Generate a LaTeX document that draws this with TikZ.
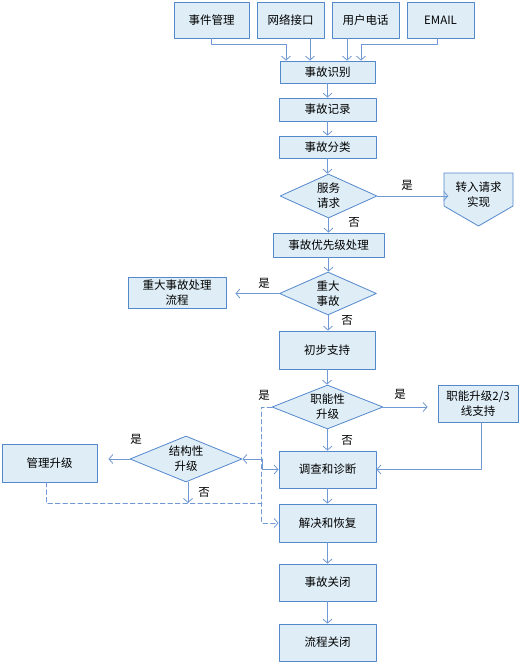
\documentclass[tikz,border=0pt]{standalone}
\usepackage{fontspec}
\setmainfont{Noto Sans CJK SC}
\usetikzlibrary{arrows.meta,shapes.geometric}
\definecolor{boxfill}{RGB}{222,237,246}
\definecolor{boxline}{RGB}{84,136,204}
\definecolor{flowline}{RGB}{112,152,212}

\begin{document}
\begin{tikzpicture}[x=1pt,y=-1pt,line cap=round,line join=round,
  every node/.style={font=\fontsize{11.5}{15}\selectfont,inner sep=0pt},
  proc/.style={draw=boxline,fill=boxfill,line width=0.8pt,minimum width=97pt,minimum height=37pt,align=center},
  decide/.style={diamond,draw=boxline,fill=boxfill,line width=0.8pt,aspect=2.3,align=center},
  flow/.style={draw=flowline,line width=0.8pt,-{Straight Barb[length=4pt,width=9pt]}},
  dashline/.style={draw=flowline,line width=0.8pt,dash pattern=on 4.5pt off 3pt},
  flowdash/.style={flow,dash pattern=on 4.5pt off 3pt}]
  \useasboundingbox (0,0) rectangle (529,663);
  % sources
  \node[proc,minimum width=75pt,minimum height=36pt] (evtmgmt) at (211.5,20) {事件管理};
  \node[proc,minimum width=67pt,minimum height=36pt] (netif) at (290.5,20) {网络接口};
  \node[proc,minimum width=67pt,minimum height=36pt] (phone) at (365.5,20) {用户电话};
  \node[proc,minimum width=67pt,minimum height=36pt] (email) at (440.5,20) {EMAIL};
  % main column
  \node[proc,minimum width=95pt,minimum height=22pt] (ident) at (327.5,72) {事故识别};
  \node[proc,minimum height=23pt] (record) at (327.5,109.5) {事故记录};
  \node[proc,minimum height=22pt] (classify) at (327.5,147) {事故分类};
  \node[decide,minimum width=97pt,minimum height=44pt] (svcreq) at (328.5,196) {服务\\请求};
  \node[proc,minimum width=111pt,minimum height=24pt] (prio) at (328.5,245) {事故优先级处理};
  \node[decide,minimum width=97pt,minimum height=43pt] (major) at (328,293.5) {重大\\事故};
  \node[proc,minimum width=96pt,minimum height=38pt] (support) at (327,350) {初步支持};
  \node[decide,minimum width=111pt,minimum height=44pt] (funcesc) at (327.5,407) {职能性\\升级};
  \node[proc] (diag) at (327.5,469.5) {调查和诊断};
  \node[proc,minimum height=38pt] (resolve) at (327.5,523) {解决和恢复};
  \node[proc] (close) at (327.5,582.5) {事故关闭};
  \node[proc] (procclose) at (327.5,642.5) {流程关闭};
  % side branches
  \draw[draw=boxline,fill=boxfill,line width=0.8pt] (444,173) -- (513,173) -- (513,206) -- (478.5,226) -- (444,206) -- cycle;
  \node[align=center] (toreq) at (478.5,195) {转入请求\\实现};
  \node[proc,minimum width=98pt,minimum height=31pt] (majorproc) at (177,292.5) {重大事故处理\\流程};
  \node[proc,minimum width=80pt,minimum height=37pt] (line23) at (478,403.5) {职能升级2/3\\线支持};
  \node[decide,minimum width=112pt,minimum height=46pt] (structesc) at (186,459) {结构性\\升级};
  \node[proc,minimum width=95pt,minimum height=38pt] (mgmtesc) at (49.5,463) {管理升级};
  \coordinate (jn) at (262,459);
  \coordinate (back) at (262,503);

  \draw[flow] (evtmgmt.south) |- ([xshift=-41.5pt,yshift=16pt]ident.north) -- ([xshift=-41.5pt]ident.north);
  \draw[flow] ([xshift=19.5pt]netif.south) -- ([xshift=-17.5pt]ident.north);
  \draw[flow] ([xshift=-18.5pt]phone.south) -- ([xshift=19.5pt]ident.north);
  \draw[flow] ([xshift=-3.5pt]email.south) |- ([xshift=33.5pt,yshift=16pt]ident.north) -- ([xshift=33.5pt]ident.north);

  \draw[flow] (ident.south) -- (record.north);
  \draw[flow] (record.south) -- (classify.north);
  \draw[flow] (classify.south) -- (classify.south |- svcreq.north);
  \draw[flow] (svcreq.south) -- (svcreq.south |- prio.north);
  \draw[flow] (svcreq.east) -- (svcreq.east -| toreq.west) [shorten >=7pt];
  \draw[flow] (prio.south) -- (prio.south |- major.north);
  \draw[flow,shorten >=9pt] (major.west) -- (major.west -| majorproc.east);
  \draw[flow] (major.south) -- (major.south |- support.north);
  \draw[flow] (support.south) -- (support.south |- funcesc.north);
  \draw[flow,shorten >=10pt] (funcesc.east) -- (funcesc.east -| line23.west);
  \draw[flow] (funcesc.south) -- (diag.north);
  \draw[flow] ([xshift=3pt]line23.south) |- (diag.east);
  \draw[flowdash] (funcesc.west) -- ++(-10,0) |- (resolve.west);
  \draw[flow] (jn) -- (structesc.east);
  \draw[flow] (jn) |- (diag.west);
  \draw[flow,shorten >=11pt] (structesc.west) -- (structesc.west -| mgmtesc.east);
  \draw[flow] ([xshift=2pt]structesc.south) -- ([xshift=2pt]structesc.south |- back);
  \draw[dashline] ([xshift=-3.5pt]mgmtesc.south) |- (back);
  \draw[flow] (diag.south) -- (resolve.north);
  \draw[flow] (resolve.south) -- (close.north);
  \draw[flow] (close.south) -- (procclose.north);

  % branch labels
  \node (ysvc) at (407,185) {是};
  \node (nsvc) at (354,222) {否};
  \node (ymajor) at (264,283) {是};
  \node (nmajor) at (347,320) {否};
  \node (yfuncr) at (400,394) {是};
  \node (yfuncl) at (264,395) {是};
  \node (nfunc) at (347,440) {否};
  \node (ystruct) at (136,439) {是};
  \node (nstruct) at (204,492) {否};
\end{tikzpicture}
\end{document}
